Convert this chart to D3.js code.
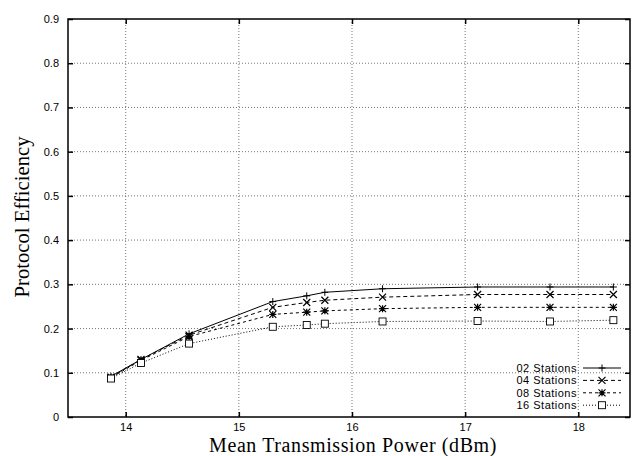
<!DOCTYPE html>
<html><head><meta charset="utf-8">
<script src="https://cdn.jsdelivr.net/npm/d3@7"></script>
<style>body{margin:0;background:#fff}svg{display:block}</style>
</head><body>
<svg id="c" width="638" height="456"></svg>
<script>
const xValues = [13.87, 14.135, 14.56, 15.30, 15.60, 15.76, 16.27, 17.11, 17.75, 18.31];
const s02 = [0.092, 0.130, 0.188, 0.261, 0.274, 0.282, 0.290, 0.294, 0.294, 0.294];
const s04 = [0.090, 0.130, 0.185, 0.248, 0.259, 0.264, 0.271, 0.277, 0.277, 0.277];
const s08 = [0.089, 0.128, 0.182, 0.232, 0.237, 0.240, 0.245, 0.248, 0.248, 0.248];
const s16 = [0.087, 0.122, 0.166, 0.204, 0.208, 0.211, 0.216, 0.217, 0.216, 0.219];
const seriesNames = ["02 Stations", "04 Stations", "08 Stations", "16 Stations"];
const xTicks = [14, 15, 16, 17, 18];
const yTicks = [0, 0.1, 0.2, 0.3, 0.4, 0.5, 0.6, 0.7, 0.8, 0.9];
const xTitle = "Mean Transmission Power (dBm)";
const yTitle = "Protocol Efficiency";

const L = 68, R = 630, T = 19, B = 417;
const svg = d3.select("#c");
const x = d3.scaleLinear().domain([13.49, 18.457]).range([L, R]);
const y = d3.scaleLinear().domain([0, 0.9]).range([B, T]);

// grid
const g = svg.append("g");
g.selectAll(".gx").data(xTicks).enter().append("line")
  .attr("x1", d => x(d)).attr("x2", d => x(d)).attr("y1", T).attr("y2", B)
  .attr("stroke", "#666").attr("stroke-width", 0.9).attr("stroke-dasharray", "1,2");
g.selectAll(".gy").data(yTicks.filter(d => d > 0 && d < 0.9)).enter().append("line")
  .attr("x1", L).attr("x2", R).attr("y1", d => y(d)).attr("y2", d => y(d))
  .attr("stroke", "#666").attr("stroke-width", 0.9).attr("stroke-dasharray", "1,2");

// axes with inward ticks
const fontTick = "Liberation Sans, Arial, sans-serif";
const ax = svg.append("g").attr("transform", `translate(0,${B})`)
  .call(d3.axisBottom(x).tickValues(xTicks).tickSize(-5).tickPadding(6).tickFormat(d3.format("d")));
const axT = svg.append("g").attr("transform", `translate(0,${T})`)
  .call(d3.axisTop(x).tickValues(xTicks).tickSize(-5).tickFormat(""));
const ay = svg.append("g").attr("transform", `translate(${L},0)`)
  .call(d3.axisLeft(y).tickValues(yTicks).tickSize(-5).tickPadding(9).tickFormat(d => d === 0 ? "0" : d3.format(".1f")(d)));
const ayR = svg.append("g").attr("transform", `translate(${R},0)`)
  .call(d3.axisRight(y).tickValues(yTicks).tickSize(-5).tickFormat(""));
[ax, axT, ay, ayR].forEach(a => {
  a.select(".domain").remove();
  a.selectAll(".tick line").attr("stroke", "#000").attr("stroke-width", 1.5);
  a.selectAll("text").attr("font-family", fontTick).attr("font-size", 11).attr("fill", "#000");
});
svg.append("rect").attr("x", L).attr("y", T).attr("width", R - L).attr("height", B - T)
  .attr("fill", "none").attr("stroke", "#000").attr("stroke-width", 1.5);

// titles
svg.append("text").attr("x", 353).attr("y", 451.5).attr("text-anchor", "middle")
  .attr("font-family", "Liberation Serif, Times New Roman, serif").attr("font-size", 20)
  .attr("letter-spacing", 0.6).text(xTitle);
svg.append("text").attr("transform", "translate(29,217) rotate(-90)").attr("text-anchor", "middle")
  .attr("font-family", "Liberation Serif, Times New Roman, serif").attr("font-size", 20.7).text(yTitle);

// series
const allSeries = [s02, s04, s08, s16];
const dashes = [null, "4,3", "3,3", "1,2"];
const markers = ["plus", "cross", "star", "square"];
const line = d3.line().x(d => x(d[0])).y(d => y(d[1]));

function drawMarker(sel, type, cx, cy) {
  const s = 3.5;
  if (type === "plus") {
    sel.append("path").attr("d", `M${cx - s},${cy}H${cx + s}M${cx},${cy - s}V${cy + s}`)
      .attr("stroke", "#000").attr("stroke-width", 1).attr("fill", "none");
  } else if (type === "cross") {
    sel.append("path").attr("d", `M${cx - s},${cy - s}L${cx + s},${cy + s}M${cx - s},${cy + s}L${cx + s},${cy - s}`)
      .attr("stroke", "#000").attr("stroke-width", 1.2).attr("fill", "none");
  } else if (type === "star") {
    sel.append("path").attr("d", `M${cx - s},${cy}H${cx + s}M${cx},${cy - s}V${cy + s}M${cx - s},${cy - s}L${cx + s},${cy + s}M${cx - s},${cy + s}L${cx + s},${cy - s}`)
      .attr("stroke", "#000").attr("stroke-width", 1.2).attr("fill", "none");
  } else {
    sel.append("rect").attr("x", cx - 3.5).attr("y", cy - 3.5).attr("width", 7).attr("height", 7)
      .attr("stroke", "#000").attr("stroke-width", 0.9).attr("fill", "#fff");
  }
}

allSeries.forEach((vals, i) => {
  const data = xValues.map((xv, j) => [xv, vals[j]]);
  svg.append("path").datum(data).attr("d", line).attr("fill", "none")
    .attr("stroke", "#000").attr("stroke-width", 1).attr("stroke-dasharray", dashes[i]);
  const mg = svg.append("g");
  data.forEach(d => drawMarker(mg, markers[i], x(d[0]), y(d[1])));
});

// legend
const legY = [368, 380.4, 392.8, 405.2];
seriesNames.forEach((name, i) => {
  svg.append("text").attr("x", 577).attr("y", legY[i]).attr("dy", "0.35em").attr("text-anchor", "end")
    .attr("font-family", fontTick).attr("font-size", 11).attr("letter-spacing", 0.5).text(name);
  const lg = svg.append("g");
  lg.append("line").attr("x1", 583).attr("x2", 621).attr("y1", legY[i]).attr("y2", legY[i])
    .attr("stroke", "#000").attr("stroke-width", 1).attr("stroke-dasharray", dashes[i]);
  drawMarker(lg, markers[i], 602, legY[i]);
});
</script>
</body></html>
